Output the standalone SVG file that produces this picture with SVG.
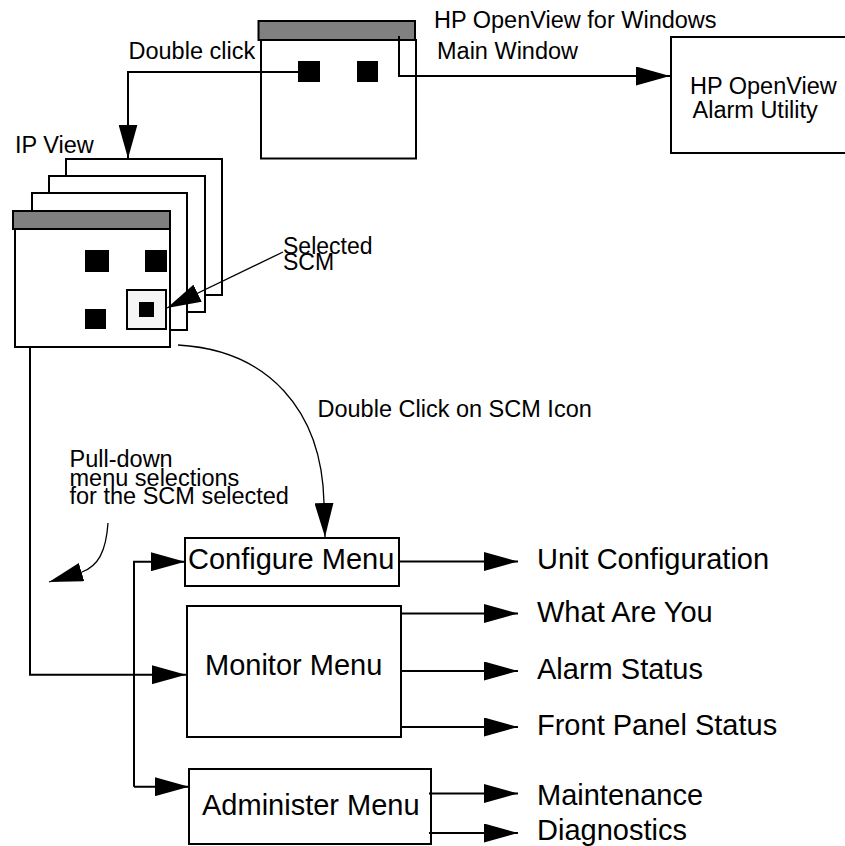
<svg xmlns="http://www.w3.org/2000/svg" width="845" height="846" viewBox="0 0 845 846">
  <style>
    text { font-family: "Liberation Sans", Arial, Helvetica, sans-serif; fill: #000; }
    .s { font-size: 23.5px; }
    .b { font-size: 29px; }
    .win { fill: #fff; stroke: #000; stroke-width: 2; }
    .bar { fill: #808080; stroke: #000; stroke-width: 2; }
    .icon { fill: #000; }
    .box { fill: #fff; stroke: #000; stroke-width: 2; }
    .wire { fill: none; stroke: #000; stroke-width: 2; }
    .thin { fill: none; stroke: #000; stroke-width: 1.3; }
  </style>
  <defs>
    <marker id="arrow" markerUnits="userSpaceOnUse" viewBox="0 0 34 19" refX="34" refY="9.5" markerWidth="34" markerHeight="19" orient="auto">
      <path d="M0,0 L34,9.5 L0,19 Z" fill="#000"/>
    </marker>
  </defs>

  <rect width="845" height="846" fill="#fff"/>

  <!-- HP OpenView main window -->
  <g id="main-window">
    <rect class="win" x="261" y="40" width="155" height="118.5"/>
    <rect class="bar" x="258.5" y="21" width="156.5" height="19"/>
    <rect class="icon" x="298" y="61" width="22" height="21"/>
    <rect class="icon" x="357" y="61" width="21" height="21"/>
    <text class="s" x="434" y="28">HP OpenView for Windows</text>
    <text class="s" x="437" y="58.5">Main Window</text>
  </g>

  <!-- Alarm utility -->
  <g id="alarm-utility">
    <rect class="box" x="671" y="37" width="178" height="116"/>
    <text class="s" x="690" y="94">HP OpenView</text>
    <text class="s" x="692.5" y="118">Alarm Utility</text>
  </g>

  <!-- IP View: stack of windows -->
  <g id="ip-view">
    <rect class="win" x="66" y="159" width="156" height="136"/>
    <rect class="win" x="49" y="176" width="156" height="136"/>
    <rect class="win" x="32" y="193" width="155" height="137"/>
    <rect class="win" x="15" y="229" width="155" height="118"/>
    <rect class="bar" x="13" y="211" width="157" height="18"/>
    <rect class="icon" x="85" y="250" width="24" height="22"/>
    <rect class="icon" x="145" y="250" width="22" height="22"/>
    <rect class="icon" x="85" y="309" width="21" height="20"/>
    <rect x="127" y="290" width="39" height="39" fill="#f5f5f5" stroke="#000" stroke-width="2"/>
    <rect class="icon" x="139" y="302" width="15" height="15"/>
    <text class="s" x="15" y="153">IP View</text>
  </g>

  <!-- Menus -->
  <g id="configure-menu">
    <rect class="box" x="185" y="538" width="214" height="48"/>
    <text class="b" x="188" y="568.5">Configure Menu</text>
  </g>
  <g id="monitor-menu">
    <rect class="box" x="187" y="606" width="214" height="131"/>
    <text class="b" x="205" y="674.5">Monitor Menu</text>
  </g>
  <g id="administer-menu">
    <rect class="box" x="189" y="769" width="242" height="75"/>
    <text class="b" x="202" y="815">Administer Menu</text>
  </g>

  <!-- Menu items -->
  <g id="menu-items">
    <text class="b" x="537" y="568.5">Unit Configuration</text>
    <text class="b" x="537" y="622">What Are You</text>
    <text class="b" x="537" y="679">Alarm Status</text>
    <text class="b" x="537" y="735">Front Panel Status</text>
    <text class="b" x="537" y="805">Maintenance</text>
    <text class="b" x="537" y="840">Diagnostics</text>
  </g>

  <!-- Annotations -->
  <g id="notes">
    <text class="s" x="128.5" y="58.5">Double click</text>
    <text x="283" y="253.5" font-size="23px">Selected</text>
    <text x="283" y="270" font-size="23px">SCM</text>
    <text class="s" x="317.5" y="417">Double Click on SCM Icon</text>
    <text class="s" x="69.5" y="466.5">Pull-down</text>
    <text class="s" x="69.5" y="485.5">menu selections</text>
    <text class="s" x="69.5" y="504">for the SCM selected</text>
  </g>

  <!-- Connectors -->
  <g id="connectors">
    <path class="wire" d="M298,72 H128 V158.5" marker-end="url(#arrow)"/>
    <path class="wire" d="M399,36 V76 H670" marker-end="url(#arrow)"/>
    <path class="thin" d="M283,252 L167,308" marker-end="url(#arrow)"/>
    <path class="thin" d="M178,345 C268,350 322,410 324,503 L325,537" marker-end="url(#arrow)"/>
    <path class="thin" d="M108,523 C106,552 98,566 82,572 L49,582" marker-end="url(#arrow)"/>
    <path class="wire" d="M30,347 V674.7 H186" marker-end="url(#arrow)"/>
    <path class="wire" d="M134,786.7 V561.7 H185" marker-end="url(#arrow)"/>
    <path class="wire" d="M134,786.7 H189" marker-end="url(#arrow)"/>
    <path class="wire" d="M399,561.5 H518" marker-end="url(#arrow)"/>
    <path class="wire" d="M401,613.5 H518" marker-end="url(#arrow)"/>
    <path class="wire" d="M401,671 H518" marker-end="url(#arrow)"/>
    <path class="wire" d="M401,727 H518" marker-end="url(#arrow)"/>
    <path class="wire" d="M429,793.5 H518" marker-end="url(#arrow)"/>
    <path class="wire" d="M429,833 H518" marker-end="url(#arrow)"/>
  </g>
</svg>
